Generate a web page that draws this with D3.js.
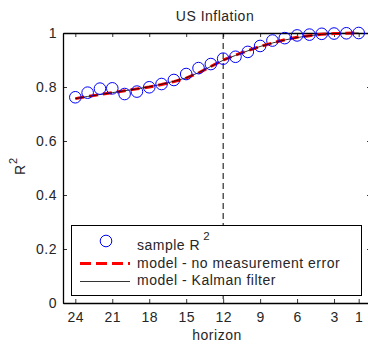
<!DOCTYPE html>
<html><head><meta charset="utf-8">
<script src="https://cdn.jsdelivr.net/npm/d3@7"></script>
<style>body{margin:0;background:#fff;} svg{display:block;font-family:"Liberation Sans",Arial,sans-serif;}</style>
</head><body>
<svg id="c" width="368" height="344"></svg>
<script>
const horizons = [24,23,22,21,20,19,18,17,16,15,14,13,12,11,10,9,8,7,6,5,4,3,2,1];
const sampleR2 = [0.762,0.779,0.794,0.795,0.774,0.783,0.799,0.811,0.826,0.848,0.870,0.885,0.905,0.912,0.930,0.952,0.972,0.981,0.991,0.994,0.997,0.998,0.999,1.000];
const modelNoME = [0.757,0.765,0.772,0.779,0.786,0.793,0.800,0.809,0.820,0.833,0.852,0.876,0.900,0.918,0.935,0.950,0.963,0.975,0.984,0.990,0.995,0.998,0.999,1.000];
const modelKalman = [0.757,0.765,0.772,0.779,0.786,0.793,0.801,0.810,0.821,0.834,0.853,0.876,0.899,0.917,0.934,0.950,0.963,0.974,0.983,0.990,0.995,0.998,0.999,1.000];
const xTicks = [24,21,18,15,12,9,6,3,1];
const yTicks = [0,0.2,0.4,0.6,0.8,1];
const legendLabels = ["sample R", "model - no measurement error", "model - Kalman filter"];
const title = "US Inflation";

const svg = d3.select("#c");
const L=63, R=371, T=33, B=303;
const x = d3.scaleLinear().domain([25,0]).range([L,R]);
const y = d3.scaleLinear().domain([0,1]).range([B,T]);
const txt = "#262626";
const fs = 14, ls = 0.5;

const tl = 4;
const gx = svg.append("g").attr("transform",`translate(0,${B})`)
  .call(d3.axisBottom(x).tickValues(xTicks).tickSizeInner(-tl).tickSizeOuter(0).tickPadding(9).tickFormat(d3.format("d")));
const gy = svg.append("g").attr("transform",`translate(${L},0)`)
  .call(d3.axisLeft(y).tickValues(yTicks).tickSizeInner(-tl).tickSizeOuter(0).tickPadding(6).tickFormat(d=>d3.format("~g")(d)));
const gt = svg.append("g").attr("transform",`translate(0,${T})`)
  .call(d3.axisTop(x).tickValues(xTicks).tickSizeInner(-tl).tickSizeOuter(0).tickFormat(""));
const gr = svg.append("g").attr("transform",`translate(${R},0)`)
  .call(d3.axisRight(y).tickValues(yTicks).tickSizeInner(-tl).tickSizeOuter(0).tickFormat(""));
[gx,gy,gt,gr].forEach(g=>{
  g.selectAll(".domain").attr("stroke","#000").attr("stroke-width",1.3);
  g.selectAll(".tick line").attr("stroke","#000").attr("stroke-width",0.8);
  g.selectAll("text").attr("fill",txt).attr("font-size",fs).attr("letter-spacing",ls).attr("font-family","Liberation Sans, Arial, sans-serif");
});

svg.append("line").attr("x1",x(12)).attr("x2",x(12)).attr("y1",y(1)).attr("y2",y(0))
  .attr("stroke","#000").attr("stroke-width",1).attr("stroke-dasharray","6,4");

const data = horizons.map((h,i)=>({h, s:sampleR2[i], m:modelNoME[i], k:modelKalman[i]}));
svg.append("path").datum(data)
  .attr("d", d3.line().x(d=>x(d.h)).y(d=>y(d.m)))
  .attr("fill","none").attr("stroke","#ff0000").attr("stroke-width",3).attr("stroke-dasharray","9,5");
svg.append("path").datum(data)
  .attr("d", d3.line().x(d=>x(d.h)).y(d=>y(d.k)))
  .attr("fill","none").attr("stroke","#000").attr("stroke-width",0.8);
svg.append("g").selectAll("circle").data(data).join("circle")
  .attr("cx",d=>x(d.h)).attr("cy",d=>y(d.s)).attr("r",5.8)
  .attr("fill","none").attr("stroke","#0000ff").attr("stroke-width",1);

const lg = svg.append("g").attr("letter-spacing",ls);
lg.append("rect").attr("x",71.5).attr("y",225.5).attr("width",290).attr("height",70)
  .attr("fill","#fff").attr("stroke","#000").attr("stroke-width",1);
lg.append("circle").attr("cx",106).attr("cy",241).attr("r",5.8).attr("fill","none").attr("stroke","#0000ff");
const t1 = lg.append("text").attr("x",137).attr("y",249.5).attr("font-size",fs).attr("fill",txt).text(legendLabels[0]);
t1.append("tspan").attr("dy",-10).attr("dx",3).attr("font-size",11.5).text("2");
lg.append("line").attr("x1",80).attr("x2",130).attr("y1",263.5).attr("y2",263.5)
  .attr("stroke","#ff0000").attr("stroke-width",3).attr("stroke-dasharray","11,5");
lg.append("text").attr("x",137).attr("y",267.5).attr("font-size",fs).attr("fill",txt).text(legendLabels[1]);
lg.append("line").attr("x1",80).attr("x2",130).attr("y1",281.5).attr("y2",281.5)
  .attr("stroke","#000").attr("stroke-width",0.8);
lg.append("text").attr("x",137).attr("y",285).attr("font-size",fs).attr("fill",txt).text(legendLabels[2]);

svg.append("text").attr("x",215).attr("y",20.5).attr("text-anchor","middle").attr("font-size",fs).attr("letter-spacing",ls).attr("fill",txt).text(title);
svg.append("text").attr("x",217).attr("y",340).attr("text-anchor","middle").attr("font-size",fs).attr("letter-spacing",ls).attr("fill",txt).text("horizon");
const yl = svg.append("text").attr("transform","translate(25,175) rotate(-90)").attr("text-anchor","start").attr("font-size",fs).attr("fill",txt).text("R");
yl.append("tspan").attr("dy",-8).attr("dx",1).attr("font-size",11).text("2");
</script>
</body></html>
